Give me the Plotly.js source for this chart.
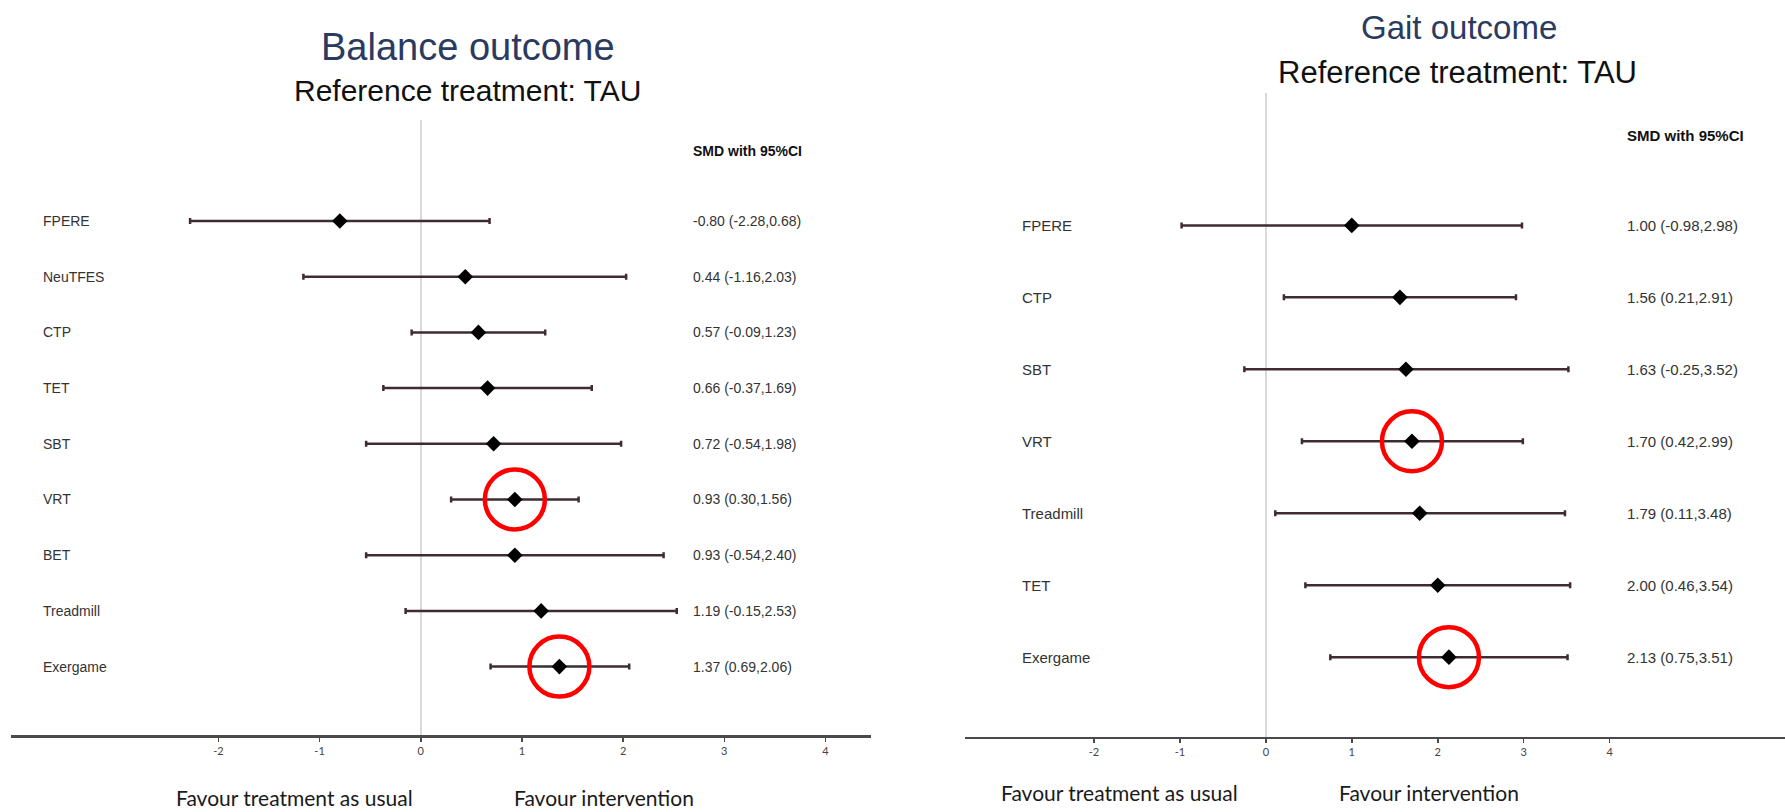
<!DOCTYPE html>
<html>
<head>
<meta charset="utf-8">
<script src="https://cdn.plot.ly/plotly-3.0.1.min.js"></script>
<style>
  html, body { margin: 0; padding: 0; background: #ffffff; }
  #chart { width: 1785px; height: 812px; }
</style>
</head>
<body>
<div id="chart"></div>
<script>
// ---------------- DATA ----------------
const balanceCats = ['FPERE', 'NeuTFES', 'CTP', 'TET', 'SBT', 'VRT', 'BET', 'Treadmill', 'Exergame'];
const balanceEst  = [-0.80, 0.44, 0.57, 0.66, 0.72, 0.93, 0.93, 1.19, 1.37];
const balanceLo   = [-2.28, -1.16, -0.09, -0.37, -0.54, 0.30, -0.54, -0.15, 0.69];
const balanceHi   = [0.68, 2.03, 1.23, 1.69, 1.98, 1.56, 2.40, 2.53, 2.06];

const gaitCats = ['FPERE', 'CTP', 'SBT', 'VRT', 'Treadmill', 'TET', 'Exergame'];
const gaitEst  = [1.00, 1.56, 1.63, 1.70, 1.79, 2.00, 2.13];
const gaitLo   = [-0.98, 0.21, -0.25, 0.42, 0.11, 0.46, 0.75];
const gaitHi   = [2.98, 2.91, 3.52, 2.99, 3.48, 3.54, 3.51];

const highlighted = ['VRT', 'Exergame'];
const tickValues = [-2, -1, 0, 1, 2, 3, 4];
const tickLabels = ['-2', '-1', '0', '1', '2', '3', '4'];

const balanceTitle = 'Balance outcome';
const gaitTitle = 'Gait outcome';
const subTitle = 'Reference treatment: TAU';
const headerText = 'SMD with 95%CI';
const favourLeft = 'Favour treatment as usual';
const favourRight = 'Favour intervention';

// ---------------- BUILD ----------------
const SANS = 'Liberation Sans, Arial, sans-serif';
const W = 1785, H = 812;
const px = v => v / W;
const py = v => 1 - v / H;

function fmt(e, l, h) {
  return e.toFixed(2) + ' (' + l.toFixed(2) + ',' + h.toFixed(2) + ')';
}

function forestTrace(cats, est, lo, hi, xa, ya) {
  return {
    type: 'scatter', mode: 'markers',
    x: est, y: cats.map((c, i) => i),
    xaxis: xa, yaxis: ya,
    marker: { symbol: 'diamond', size: 12, color: '#000000' },
    error_x: {
      type: 'data', symmetric: false,
      array: hi.map((h, i) => h - est[i]),
      arrayminus: lo.map((l, i) => est[i] - l),
      color: '#3e2c32', thickness: 2.5, width: 3
    },
    hoverinfo: 'skip', showlegend: false
  };
}

const traces = [
  forestTrace(balanceCats, balanceEst, balanceLo, balanceHi, 'x', 'y'),
  forestTrace(gaitCats, gaitEst, gaitLo, gaitHi, 'x2', 'y2')
];

const annotations = [];
const shapes = [];

function addPanel(cats, est, lo, hi, yref, xref, labelX, valueX, fsize) {
  cats.forEach((c, i) => {
    annotations.push({
      text: c, xref: 'paper', yref: yref, x: labelX, y: i,
      xanchor: 'left', yanchor: 'middle', showarrow: false,
      font: { family: SANS, size: fsize, color: '#333333' }
    });
    annotations.push({
      text: fmt(est[i], lo[i], hi[i]), xref: 'paper', yref: yref, x: valueX, y: i,
      xanchor: 'left', yanchor: 'middle', showarrow: false,
      font: { family: SANS, size: fsize, color: '#333333' }
    });
    if (highlighted.indexOf(c) >= 0) {
      shapes.push({
        type: 'circle', xref: xref, yref: yref,
        xsizemode: 'pixel', ysizemode: 'pixel',
        xanchor: est[i], yanchor: i,
        x0: -30, x1: 30, y0: -30, y1: 30,
        line: { color: '#ff0000', width: 4.5 }
      });
    }
  });
}

addPanel(balanceCats, balanceEst, balanceLo, balanceHi, 'y', 'x', px(40.7), px(691), 14);
addPanel(gaitCats, gaitEst, gaitLo, gaitHi, 'y2', 'x2', px(1020), px(1625), 15);

function txt(text, x, y, size, color, bold, family) {
  annotations.push({
    text: bold ? '<b>' + text + '</b>' : text,
    xref: 'paper', yref: 'paper', x: x, y: y,
    xanchor: 'center', yanchor: 'middle', showarrow: false,
    font: { family: family || SANS, size: size, color: color }
  });
}
// titles
txt(balanceTitle, px(468), py(47), 38, '#2a3a60');
txt(subTitle, px(467), py(91), 30, '#111111');
txt(gaitTitle, px(1459), py(28), 33, '#2a3a60');
txt(subTitle, px(1457), py(72), 31, '#111111');
// headers
annotations.push({ text: '<b>' + headerText + '</b>', xref: 'paper', yref: 'paper',
  x: px(691), y: py(150.7), xanchor: 'left', yanchor: 'middle', showarrow: false,
  font: { family: SANS, size: 14, color: '#111111' } });
annotations.push({ text: '<b>' + headerText + '</b>', xref: 'paper', yref: 'paper',
  x: px(1625), y: py(135), xanchor: 'left', yanchor: 'middle', showarrow: false,
  font: { family: SANS, size: 15, color: '#111111' } });
// favour labels
const FAV = 'Lato, Open Sans, sans-serif';
txt(favourLeft, px(294.5), py(797), 21, '#1a1a1a', false, FAV);
txt(favourRight, px(603.5), py(797), 21, '#1a1a1a', false, FAV);
txt(favourLeft, px(1119.6), py(792), 21, '#1a1a1a', false, FAV);
txt(favourRight, px(1429), py(792), 21, '#1a1a1a', false, FAV);

function xAxis(domain, range, anchor) {
  return {
    domain: domain, range: range, anchor: anchor,
    showgrid: false, zeroline: true, zerolinecolor: '#d9d9d9', zerolinewidth: 1.5,
    showline: true, linecolor: '#4a4a4a', linewidth: 2.5,
    ticks: 'outside', ticklen: 4, tickwidth: 1.5, tickcolor: '#4a4a4a',
    tickmode: 'array', tickvals: tickValues, ticktext: tickLabels,
    tickfont: { family: 'Lato, Open Sans, sans-serif', size: 11, color: '#444444' },
    fixedrange: true
  };
}
function yAxis(domain, range, anchor) {
  return {
    domain: domain, range: range, anchor: anchor,
    showgrid: false, zeroline: false, showline: false,
    showticklabels: false, ticks: '', fixedrange: true
  };
}

const layout = {
  width: W, height: H,
  margin: { l: 0, r: 0, t: 0, b: 0 },
  paper_bgcolor: '#ffffff', plot_bgcolor: 'rgba(0,0,0,0)',
  showlegend: false,
  xaxis: xAxis([px(11), px(871)], [-4.05, 4.45], 'y'),
  yaxis: yAxis([1 - 735 / H, 1 - 119.5 / H], [9.228, -1.822], 'x'),
  xaxis2: xAxis([px(965), 1], [-3.50, 6.04], 'y2'),
  yaxis2: yAxis([1 - 736.5 / H, 1 - 93.3 / H], [7.103, -1.836], 'x2'),
  annotations: annotations,
  shapes: shapes
};

Plotly.newPlot('chart', traces, layout, { displayModeBar: false, staticPlot: true });
</script>
</body>
</html>
